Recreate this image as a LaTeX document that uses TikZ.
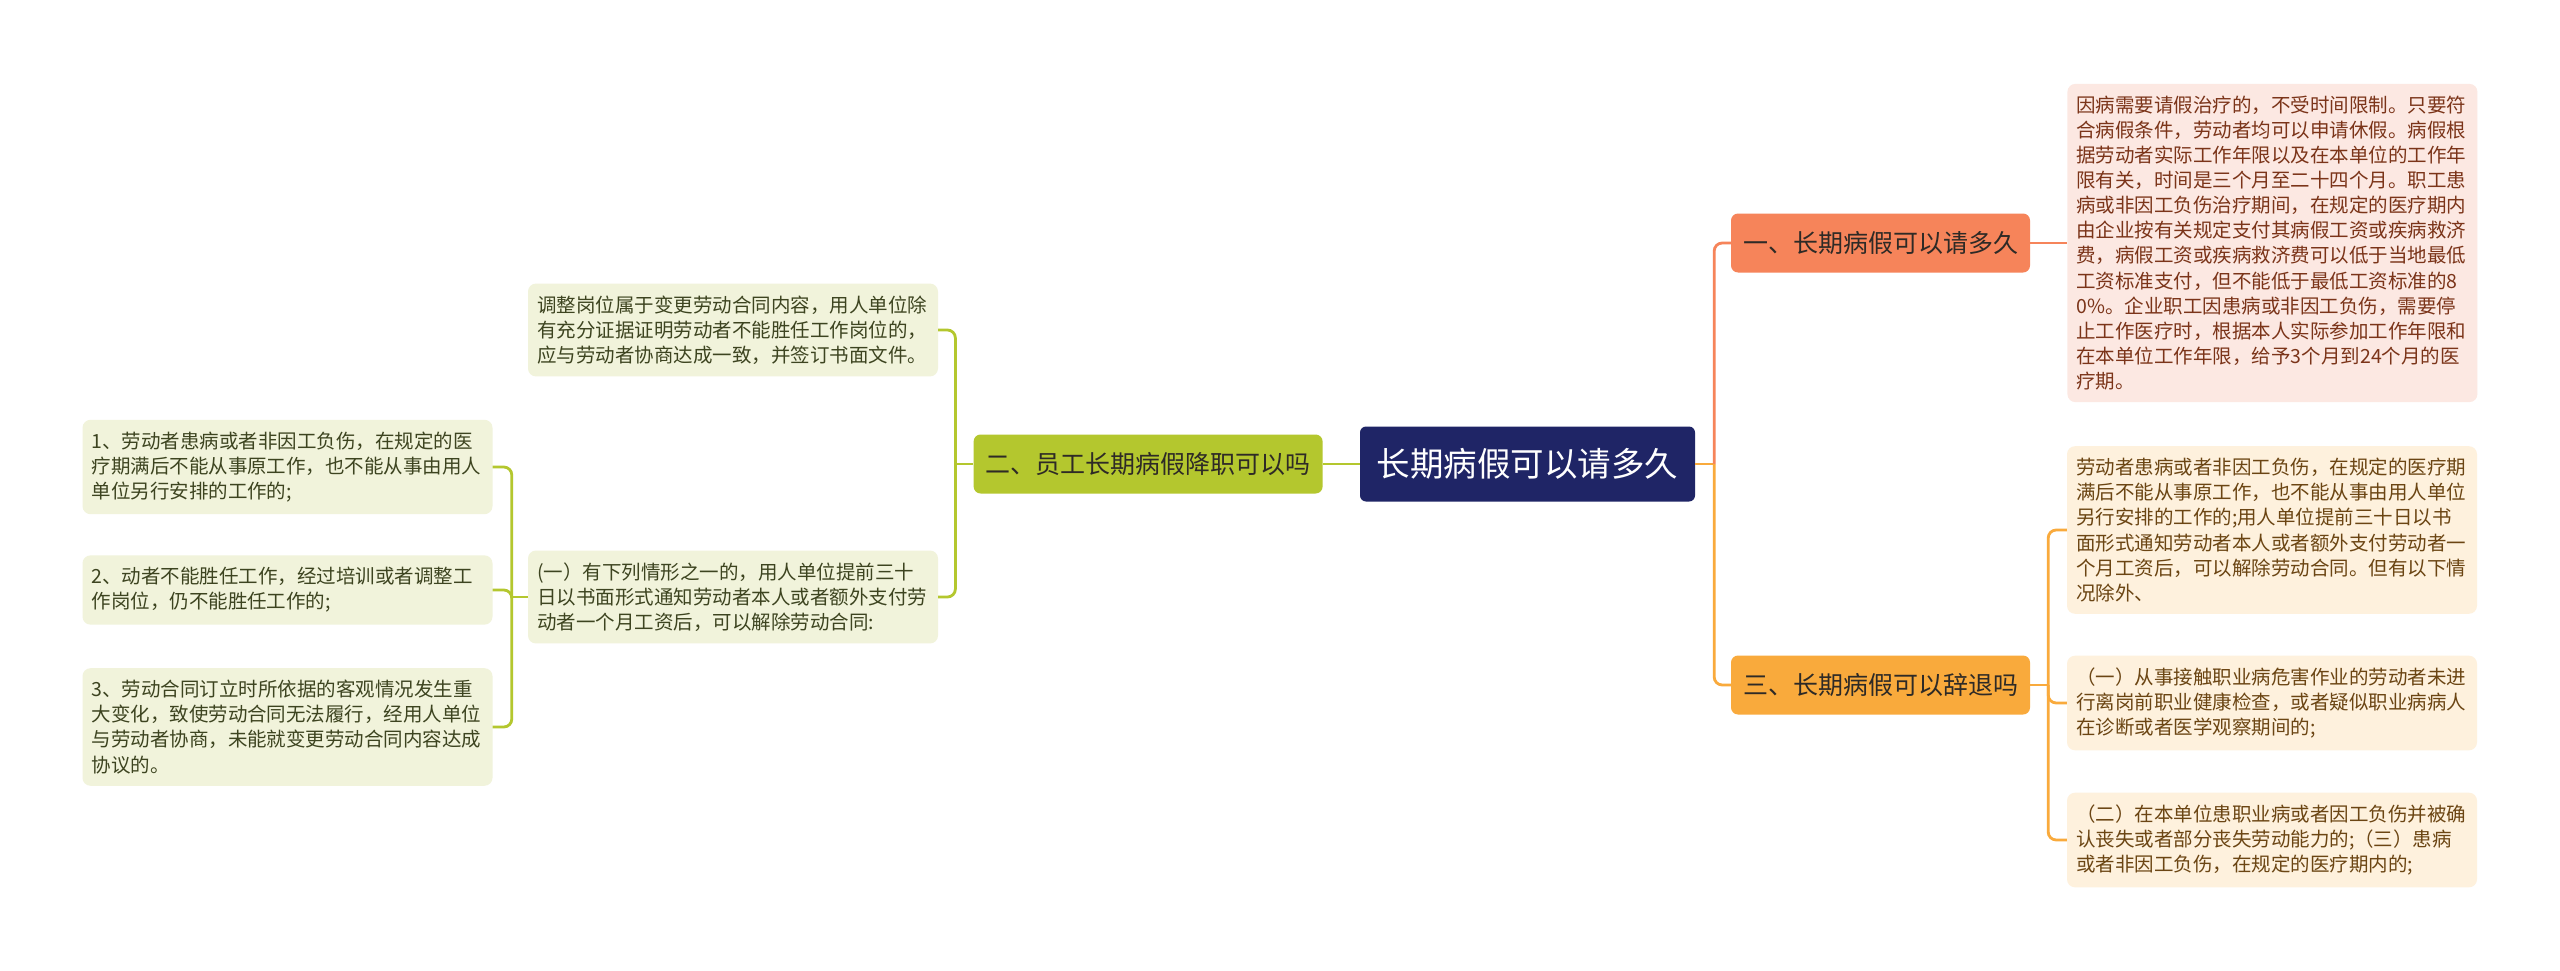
\documentclass[tikz,border=0pt]{standalone}
\usepackage{fontspec}
\usepackage{tikz}
\usetikzlibrary{positioning}
\newfontfamily\cjk{Noto Sans CJK SC}
\definecolor{topicBlue}{HTML}{1F2566}
\definecolor{branchCoral}{HTML}{F6845A}
\definecolor{branchAmber}{HTML}{F9AA3C}
\definecolor{branchLime}{HTML}{B4C72E}
\definecolor{leafPink}{HTML}{FCE8E2}
\definecolor{leafCream}{HTML}{FEF1DD}
\definecolor{leafGreen}{HTML}{F1F3DB}
\definecolor{textRed}{HTML}{7B3419}
\definecolor{textBrown}{HTML}{6B4513}
\definecolor{textOlive}{HTML}{3D4420}
\definecolor{textDark}{HTML}{2E2A26}

\begin{document}
\begin{tikzpicture}[
            x=1pt, y=-1pt,
            node distance=37pt,
            topic/.style={
                    rectangle,
                    rounded corners=6pt,
                    fill=topicBlue,
                    text=white,
                    minimum width=335pt,
                    minimum height=75pt,
                    font=\cjk\fontsize{33.5pt}{40pt}\selectfont
                },
            branch/.style={
                    rectangle,
                    rounded corners=7pt,
                    text=textDark,
                    minimum height=59pt,
                    inner xsep=12pt,
                    font=\cjk\fontsize{25pt}{30pt}\selectfont
                },
            leaf/.style={
                    rectangle,
                    rounded corners=8pt,
                    text width=392pt,
                    align=left,
                    inner xsep=9pt,
                    inner ysep=12pt,
                    font=\cjk\fontsize{19.5pt}{25.1pt}\selectfont
                },
            link/.style={line width=2.8pt, rounded corners=8pt}
        ]
        \useasboundingbox[fill=white] (0,0) rectangle (2560,971);

        \node[topic] (top) at (1527.5,464) {长期病假可以请多久};
        \node[branch, fill=branchLime, left=of top] (b2) {二、员工长期病假降职可以吗};
        \node[branch, fill=branchCoral] (b1) at (1880.5,243) {一、长期病假可以请多久};
        \node[branch, fill=branchAmber] (b3) at (1880.5,685) {三、长期病假可以辞退吗};

        \node[leaf, fill=leafPink, text=textRed, right=of b1] (r1) {因病需要请假治疗的，不受时间限制。只要符\\合病假条件，劳动者均可以申请休假。病假根\\据劳动者实际工作年限以及在本单位的工作年\\限有关，时间是三个月至二十四个月。职工患\\病或非因工负伤治疗期间，在规定的医疗期内\\由企业按有关规定支付其病假工资或疾病救济\\费，病假工资或疾病救济费可以低于当地最低\\工资标准支付，但不能低于最低工资标准的8\\0\%。企业职工因患病或非因工负伤，需要停\\止工作医疗时，根据本人实际参加工作年限和\\在本单位工作年限，给予3个月到24个月的医\\疗期。};
        \node[leaf, fill=leafCream, text=textBrown] (r2) at (2272,530) {劳动者患病或者非因工负伤，在规定的医疗期\\满后不能从事原工作，也不能从事由用人单位\\另行安排的工作的;用人单位提前三十日以书\\面形式通知劳动者本人或者额外支付劳动者一\\个月工资后，可以解除劳动合同。但有以下情\\况除外、};
        \node[leaf, fill=leafCream, text=textBrown] (r3) at (2272,703) {（一）从事接触职业病危害作业的劳动者未进\\行离岗前职业健康检查，或者疑似职业病病人\\在诊断或者医学观察期间的;};
        \node[leaf, fill=leafCream, text=textBrown] (r4) at (2272,840) {（二）在本单位患职业病或者因工负伤并被确\\认丧失或者部分丧失劳动能力的;（三）患病\\或者非因工负伤，在规定的医疗期内的;};

        \node[leaf, fill=leafGreen, text=textOlive] (l1) at (733,330) {调整岗位属于变更劳动合同内容，用人单位除\\有充分证据证明劳动者不能胜任工作岗位的，\\应与劳动者协商达成一致，并签订书面文件。};
        \node[leaf, fill=leafGreen, text=textOlive] (l2) at (733,597) {(一）有下列情形之一的，用人单位提前三十\\日以书面形式通知劳动者本人或者额外支付劳\\动者一个月工资后，可以解除劳动合同:};
        \node[leaf, fill=leafGreen, text=textOlive] (ll1) at (287.5,467) {1、劳动者患病或者非因工负伤，在规定的医\\疗期满后不能从事原工作，也不能从事由用人\\单位另行安排的工作的;};
        \node[leaf, fill=leafGreen, text=textOlive] (ll2) at (287.5,590) {2、动者不能胜任工作，经过培训或者调整工\\作岗位，仍不能胜任工作的;};
        \node[leaf, fill=leafGreen, text=textOlive] (ll3) at (287.5,727) {3、劳动合同订立时所依据的客观情况发生重\\大变化，致使劳动合同无法履行，经用人单位\\与劳动者协商，未能就变更劳动合同内容达成\\协议的。};

        \path (top.east) ++(19,0) coordinate (tj);
        \path (b3.east) ++(18,0) coordinate (b3j);
        \path (b2.west) ++(-18,0) coordinate (b2j);
        \path (l2.west) ++(-16,0) coordinate (l2j);

        \draw[link, branchAmber] (top.east) -- (tj);
        \draw[link, branchCoral] (tj) |- (b1.west);
        \draw[link, branchAmber] (tj) |- (b3.west);
        \draw[link, branchCoral] (b1) -- (r1);
        \draw[link, branchAmber] (b3.east) -- (b3j);
        \draw[link, branchAmber] (b3j) |- (r2.west);
        \draw[link, branchAmber] (b3j) |- (r3.west);
        \draw[link, branchAmber] (b3j) |- (r4.west);

        \draw[link, branchLime] (top) -- (b2);
        \draw[link, branchLime] (b2.west) -- (b2j);
        \draw[link, branchLime] (b2j) |- (l1.east);
        \draw[link, branchLime] (b2j) |- (l2.east);
        \draw[link, branchLime] (l2.west) -- (l2j);
        \draw[link, branchLime] (l2j) |- (ll1.east);
        \draw[link, branchLime] (l2j) |- (ll2.east);
        \draw[link, branchLime] (l2j) |- (ll3.east);
    \end{tikzpicture}
\end{document}
